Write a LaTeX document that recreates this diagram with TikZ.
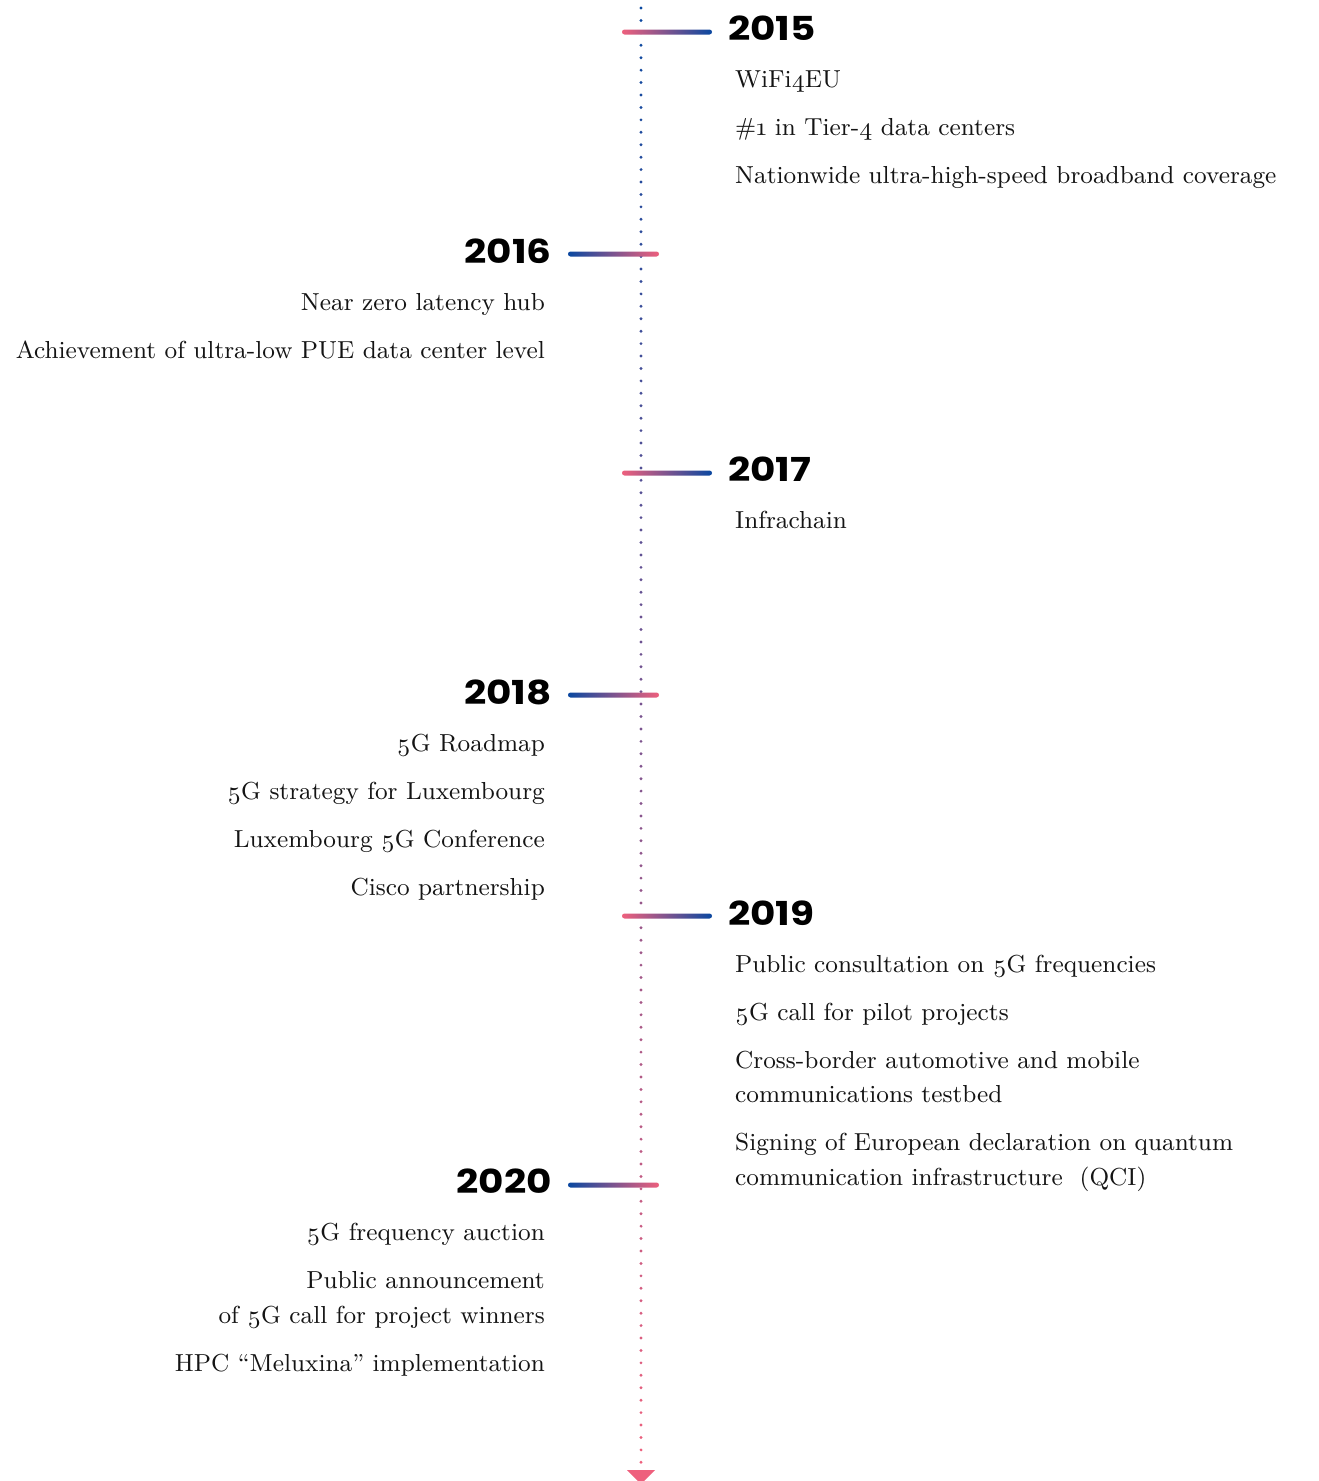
\documentclass[tikz,border=0pt]{standalone}
\usepackage{fontspec}
\setmainfont{lmroman9-regular.otf}[Numbers=OldStyle]
\newfontfamily\yearfont{Poppins}[FakeStretch=1.18]
\definecolor{tlblue}{RGB}{10,72,160}
\definecolor{tlpink}{RGB}{238,96,125}
\definecolor{tltext}{RGB}{20,20,20}
\tikzset{
  item/.style={inner sep=0pt, font=\fontsize{24.6}{30}\selectfont, text=tltext},
  itemR/.style={item, anchor=base west},
  itemL/.style={item, anchor=base east},
  year/.style={inner sep=0pt, font=\yearfont\bfseries\fontsize{33}{38}\selectfont, text=black},
  yearR/.style={year, anchor=base west},
  yearL/.style={year, anchor=base east},
  tickR/.style={left color=tlpink, right color=tlblue, rounded corners=2.5pt},
  tickL/.style={left color=tlblue, right color=tlpink, rounded corners=2.5pt},
}
\begin{document}
\begin{tikzpicture}[x=1pt,y=-1pt]
\useasboundingbox (0,0) rectangle (1319,1481);
% dotted axis
\coordinate (axtop) at (641,8);
\coordinate (axbot) at (641,1462);
\foreach \i in {0,...,117}{
  \pgfmathsetmacro\yy{8+\i*12.43}
  \pgfmathsetmacro\pp{100*\i/117}
  \fill[tlpink!\pp!tlblue] (641,\yy) circle (1.6);
}
\fill[tlpink] (627,1470) -- (655,1470) -- (641,1484) -- cycle;
% ticks
\shade[tickR] (622,29.5) rectangle (712,34.5);
\shade[tickL] (568,251.5) rectangle (659,256.5);
\shade[tickR] (622,470.5) rectangle (712,475.5);
\shade[tickL] (568,692.5) rectangle (659,697.5);
\shade[tickR] (622,913.5) rectangle (712,918.5);
\shade[tickL] (568,1182.5) rectangle (659,1187.5);
% years
\node[yearR] (y15) at (728,40) {2015};
\node[yearL] (y16) at (552,263) {2016};
\node[yearR] (y17) at (728,481) {2017};
\node[yearL] (y18) at (552,704) {2018};
\node[yearR] (y19) at (728,925) {2019};
\node[yearL] (y20) at (552,1193) {2020};
% 2015
\node[itemR] (a1) at (735,87) {WiFi4EU};
\node[itemR] (a2) at (735,135) {\#1 in Tier-4 data centers};
\node[itemR] (a3) at (735,183) {Nationwide ultra-high-speed broadband coverage};
% 2016
\node[itemL] (b1) at (545,310) {Near zero latency hub};
\node[itemL] (b2) at (545,358) {Achievement of ultra-low PUE data center level};
% 2017
\node[itemR] (c1) at (735,528) {Infrachain};
% 2018
\node[itemL] (d1) at (545,751) {5G Roadmap};
\node[itemL] (d2) at (545,799) {5G strategy for Luxembourg};
\node[itemL] (d3) at (545,847) {Luxembourg 5G Conference};
\node[itemL] (d4) at (545,895) {Cisco partnership};
% 2019
\node[itemR] (e1) at (735,972) {Public consultation on 5G frequencies};
\node[itemR] (e2) at (735,1020) {5G call for pilot projects};
\node[itemR] (e3) at (735,1068) {Cross-border automotive and mobile};
\node[itemR] (e4) at (735,1102) {communications testbed};
\node[itemR] (e5) at (735,1150) {Signing of European declaration on quantum};
\node[itemR] (e6) at (735,1185) {communication infrastructure\ \ (QCI)};
% 2020
\node[itemL] (f1) at (545,1240) {5G frequency auction};
\node[itemL] (f2) at (545,1288) {Public announcement};
\node[itemL] (f3) at (545,1323) {of 5G call for project winners};
\node[itemL] (f4) at (545,1371) {HPC “Meluxina” implementation};
\end{tikzpicture}
\end{document}
